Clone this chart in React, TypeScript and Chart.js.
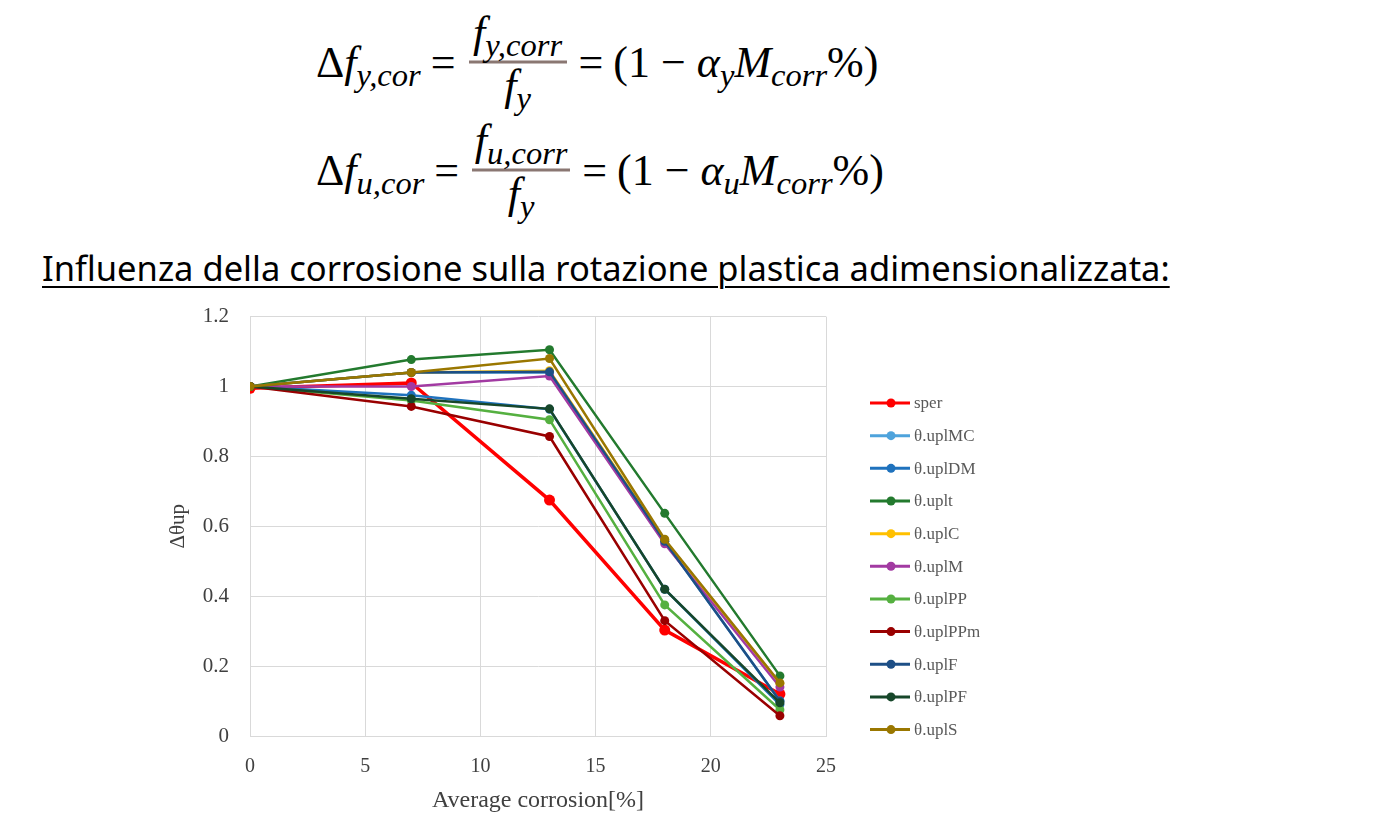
import React, { useEffect, useRef } from "react";
import { Chart, registerables } from "chart.js";

Chart.register(...registerables);

const xValues = [0, 7, 13, 18, 23];
const seriesNames = [
  "sper",
  "θ.uplMC",
  "θ.uplDM",
  "θ.uplt",
  "θ.uplC",
  "θ.uplM",
  "θ.uplPP",
  "θ.uplPPm",
  "θ.uplF",
  "θ.uplPF",
  "θ.uplS",
];
const sper = [0.995, 1.01, 0.675, 0.303, 0.12];
const uplMC = [1, 1.04, 1.04, 0.557, 0.1];
const uplDM = [1, 0.975, 0.935, 0.42, 0.09];
const uplt = [1, 1.077, 1.105, 0.637, 0.172];
const uplC = [1, 1.04, 1.045, 0.56, 0.15];
const uplM = [1, 1.0, 1.03, 0.55, 0.14];
const uplPP = [1, 0.96, 0.905, 0.375, 0.075];
const uplPPm = [1, 0.943, 0.857, 0.33, 0.058];
const uplF = [1, 1.04, 1.042, 0.557, 0.1];
const uplPF = [1, 0.965, 0.936, 0.42, 0.095];
const uplS = [1, 1.04, 1.08, 0.563, 0.152];
const seriesValues = [sper, uplMC, uplDM, uplt, uplC, uplM, uplPP, uplPPm, uplF, uplPF, uplS];
const seriesColors = [
  "#ff0000",
  "#4ea3dc",
  "#1f72bd",
  "#237a2e",
  "#ffc000",
  "#a23aa2",
  "#55b040",
  "#990000",
  "#1d4f86",
  "#17472a",
  "#9a7700",
];
const xTicksMin = 0;
const xTicksMax = 25;
const xStep = 5;
const yMin = 0;
const yMax = 1.2;
const yStep = 0.2;
const xTitle = "Average corrosion[%]";
const yTitle = "Δθup";

const CANVAS_TOP = 283;
const CANVAS_H = 541;

const legendPlugin = {
  id: "sideLegend",
  afterDraw(chart: any) {
    const ctx = chart.ctx;
    const startY = 403 - CANVAS_TOP;
    const gap = 32.66;
    ctx.save();
    chart.data.datasets.forEach((ds: any, i: number) => {
      const y = startY + i * gap;
      ctx.strokeStyle = ds.borderColor;
      ctx.lineWidth = 3;
      ctx.beginPath();
      ctx.moveTo(710, y);
      ctx.lineTo(750, y);
      ctx.stroke();
      ctx.fillStyle = ds.borderColor;
      ctx.beginPath();
      ctx.arc(731, y, 4.5, 0, Math.PI * 2);
      ctx.fill();
      ctx.fillStyle = "#595959";
      ctx.font = '17px "Liberation Serif"';
      ctx.textBaseline = "middle";
      ctx.textAlign = "left";
      ctx.fillText(ds.label, 754, y + 1);
    });
    ctx.restore();
  },
};

function ChartBox() {
  const ref = useRef<HTMLCanvasElement | null>(null);
  useEffect(() => {
    if (!ref.current) return;
    const n = seriesNames.length;
    const chart = new Chart(ref.current, {
      type: "line",
      data: {
        datasets: seriesNames.map((name, i) => ({
          label: name,
          data: xValues.map((x, j) => ({ x, y: seriesValues[i][j] })),
          borderColor: seriesColors[i],
          backgroundColor: seriesColors[i],
          pointBackgroundColor: seriesColors[i],
          pointBorderColor: seriesColors[i],
          borderWidth: i === 0 ? 3.5 : 2.5,
          pointRadius: i === 0 ? 5.5 : 4.5,
          pointBorderWidth: 0,
          tension: 0,
          order: n - i,
        })),
      },
      options: {
        animation: false,
        responsive: false,
        maintainAspectRatio: false,
        layout: { padding: { left: 0, top: 8, right: 194, bottom: 0 } },
        plugins: { legend: { display: false }, tooltip: { enabled: false } },
        scales: {
          x: {
            type: "linear",
            min: xTicksMin,
            max: xTicksMax,
            ticks: {
              stepSize: xStep,
              color: "#404040",
              padding: 19,
              font: { family: '"Liberation Serif"', size: 20 },
            },
            grid: { color: "#d9d9d9", drawTicks: false },
            border: { color: "#d9d9d9" },
            title: {
              display: true,
              text: xTitle,
              color: "#404040",
              font: { family: '"Liberation Serif"', size: 24 },
              padding: { top: 0, bottom: 9 },
            },
            afterFit: (s: any) => {
              s.height = 88;
            },
          },
          y: {
            type: "linear",
            min: yMin,
            max: yMax,
            ticks: {
              stepSize: yStep,
              color: "#404040",
              padding: 21,
              font: { family: '"Liberation Serif"', size: 21 },
              callback: (v: any) => String(Number(Number(v).toFixed(2))),
            },
            grid: { color: "#d9d9d9", drawTicks: false },
            border: { color: "#d9d9d9" },
            title: {
              display: true,
              text: yTitle,
              color: "#404040",
              font: { family: '"Liberation Serif"', size: 21 },
              padding: { top: 6, bottom: 0 },
            },
            afterFit: (s: any) => {
              s.width = 90;
            },
          },
        },
      },
      plugins: [legendPlugin],
    });
    return () => chart.destroy();
  }, []);
  return (
    <canvas
      ref={ref}
      width={860}
      height={CANVAS_H}
      style={{ position: "absolute", left: 160, top: CANVAS_TOP, width: 860, height: CANVAS_H }}
    />
  );
}

const mathFont = '"Liberation Serif", serif';
const sub = (t: string) => (
  <span style={{ fontSize: "0.74em", fontStyle: "italic", position: "relative", top: "0.28em" }}>{t}</span>
);

function Fraction({ num, den }: { num: React.ReactNode; den: React.ReactNode }) {
  return (
    <span style={{ display: "inline-flex", flexDirection: "column", alignItems: "center", margin: "0" }}>
      <span style={{ height: 44, lineHeight: "44px", whiteSpace: "nowrap", position: "relative", top: -6 }}>{num}</span>
      <span style={{ width: 98, height: 3, background: "#8a7772" }} />
      <span style={{ height: 44, lineHeight: "44px", whiteSpace: "nowrap" }}>{den}</span>
    </span>
  );
}

function Formula({ top, letter, alpha }: { top: number; letter: string; alpha: string }) {
  return (
    <div
      style={{
        position: "absolute",
        left: 316,
        top,
        transform: "translateY(-50%)",
        display: "flex",
        alignItems: "center",
        fontFamily: mathFont,
        fontSize: 44,
        color: "#000",
        whiteSpace: "nowrap",
      }}
    >
      <span>
        Δ<i>f</i>
        {sub(letter + ",cor")}
      </span>
      <span style={{ margin: "0 13px 0 10px" }}>=</span>
      <Fraction
        num={
          <span>
            <i>f</i>
            {sub(letter + ",corr")}
          </span>
        }
        den={
          <span>
            <i>f</i>
            {sub("y")}
          </span>
        }
      />
      <span style={{ margin: "0 10px 0 12px" }}>=</span>
      <span>
        (1 − <i>α</i>
        {sub(alpha)}
        <i>M</i>
        {sub("corr")}%)
      </span>
    </div>
  );
}

export default function App() {
  return (
    <div
      style={{
        position: "absolute",
        left: 0,
        top: 0,
        width: 1387,
        height: 824,
        background: "#ffffff",
        overflow: "hidden",
      }}
    >
      <Formula top={62} letter="y" alpha="y" />
      <Formula top={170} letter="u" alpha="u" />
      <div
        style={{
          position: "absolute",
          left: 42,
          top: 244,
          fontFamily: '"Noto Sans", sans-serif',
          fontSize: 34.5,
          lineHeight: "normal",
          color: "#000",
          textDecoration: "underline",
          textUnderlineOffset: 5,
          textDecorationThickness: 2,
          whiteSpace: "nowrap",
        }}
      >
        Influenza della corrosione sulla rotazione plastica adimensionalizzata:
      </div>
      <ChartBox />
    </div>
  );
}
